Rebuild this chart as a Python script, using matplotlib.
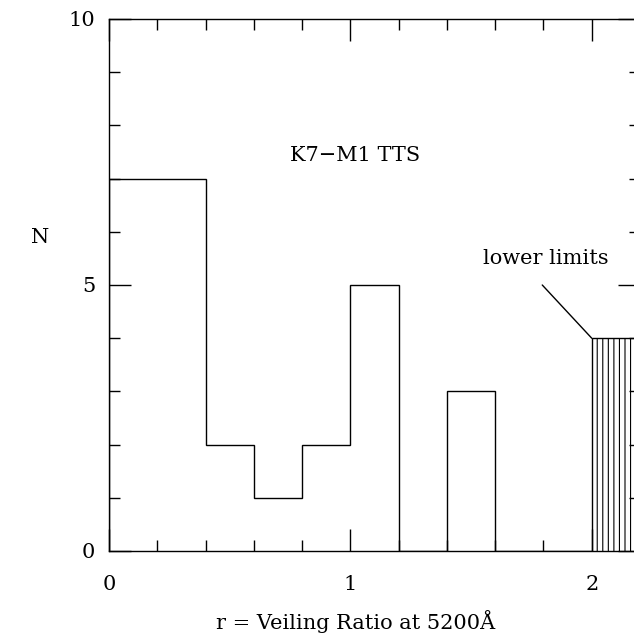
import numpy as np
import matplotlib
matplotlib.use("Agg")
from matplotlib import pyplot as plt
from matplotlib.ticker import MultipleLocator

# histogram of veiling ratio, bins of 0.2
edges = np.arange(0, 2.21, 0.2)
counts = [7, 7, 2, 1, 2, 5, 0, 3, 0, 0, 4]
# last bin holds lower limits only
limit_lo, limit_hi = 2.0, 2.2
limit_n = 4

plt.rcParams['font.family'] = ['DejaVu Serif']
plt.rcParams['hatch.linewidth'] = 0.8

fig = plt.figure(figsize=(6.34, 6.41), dpi=100)
ax = fig.add_axes([109/634., 90/641., 531/634., 532/641.])

ax.stairs(counts, edges, baseline=0, color='black', linewidth=1.0)
ax.bar((limit_lo+limit_hi)/2., limit_n, width=limit_hi-limit_lo, fill=False,
       hatch='|||', edgecolor='black', linewidth=0)

ax.set_xlim(0, 2.2)
ax.set_ylim(0, 10)
ax.xaxis.set_major_locator(MultipleLocator(1))
ax.xaxis.set_minor_locator(MultipleLocator(0.2))
ax.yaxis.set_major_locator(MultipleLocator(5))
ax.yaxis.set_minor_locator(MultipleLocator(1))
ax.tick_params(which='both', direction='in', top=True, right=True, width=1.0,
               labelsize=15)
ax.tick_params(which='major', length=16, pad=10)
ax.tick_params(which='minor', length=8)
ax.tick_params(axis='x', which='major', pad=17)
for s in ax.spines.values():
    s.set_linewidth(1.0)

ax.text(1.02, 7.44, 'K7\u2212M1 TTS', ha='center', va='center', fontsize=15)
ax.text(1.81, 5.5, 'lower limits', ha='center', va='center', fontsize=15)
ax.annotate('', xy=(limit_lo, limit_n), xytext=(1.795, 5.0),
            arrowprops=dict(arrowstyle='-', color='black', lw=1.0,
                            shrinkA=0, shrinkB=0))
ax.text(-0.285, 5.9, 'N', ha='center', va='center', fontsize=15)
ax.text(1.02, -1.33, 'r = Veiling Ratio at 5200\u00c5', ha='center',
        va='center', fontsize=15, clip_on=False)

fig.savefig('out.png', dpi=100)
